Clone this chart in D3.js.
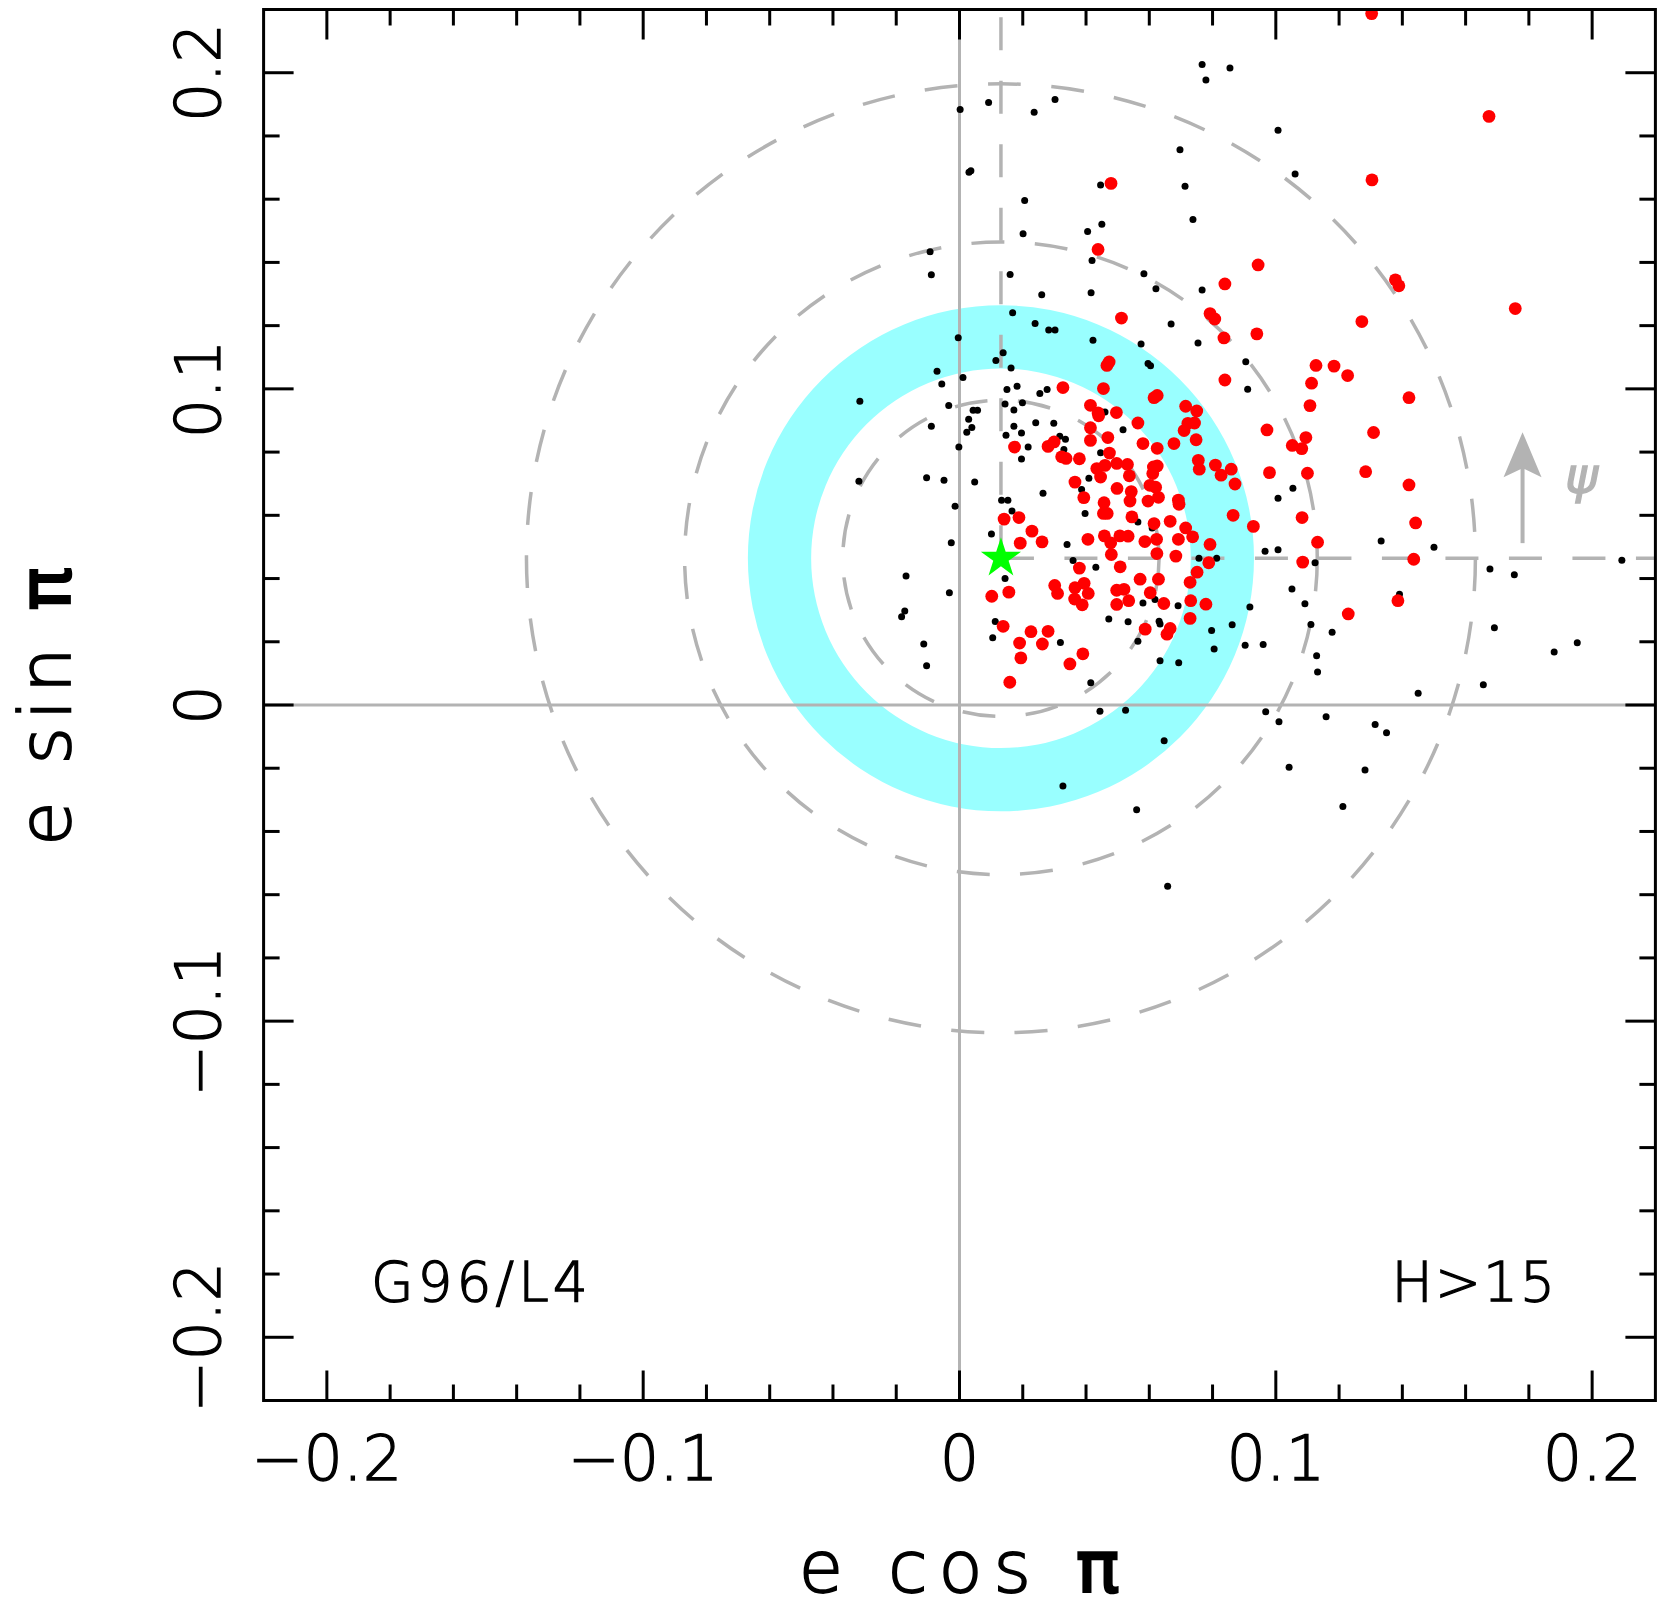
<!DOCTYPE html>
<html>
<head>
<meta charset="utf-8">
<script src="https://cdn.jsdelivr.net/npm/d3@7/dist/d3.min.js"></script>
<style>
  body { margin: 0; background: #fff; }
  text { font-family: "DejaVu Sans", sans-serif; font-weight: 200; fill: #000; stroke: #000; stroke-width: 1.3px; }
</style>
</head>
<body>
<div class="chart"></div>
<script>
// axis ticks
const majorTicks = [-0.2, -0.1, 0, 0.1, 0.2]
const tickLabels = ["−0.2", "−0.1", "0", "0.1", "0.2"]
const minorTicks = [-0.18, -0.16, -0.14, -0.12, -0.08, -0.06, -0.04, -0.02, 0.02, 0.04, 0.06, 0.08, 0.12, 0.14, 0.16, 0.18]

// forced centre, dashed circles and the cyan band
const centre = [0.0131, 0.0464]
const dashRadii = [0.05, 0.10, 0.15]
const bandRadii = [0.06, 0.08]
// arrow (x, y start, y end) and label spot
const arrow = [0.178, 0.0512, 0.0863]
const psiAt = [0.1966, 0.067]

// small black points: [e cos pi, e sin pi]
const blackDots = [
  [0.0767,0.2026],[0.0855,0.2015],[0.0779,0.1977],[0.0002,0.1884],[0.0092,0.1906],[0.0236,0.1875],[0.0302,0.1915],[0.1007,0.1818],[0.0697,0.1756],[0.1061,0.1680],
  [0.0036,0.1690],[0.0030,0.1685],[0.0446,0.1645],[0.0713,0.1641],[0.0206,0.1596],[0.0738,0.1536],[0.0405,0.1498],[0.0450,0.1521],[0.0201,0.1491],[-0.0093,0.1434],
  [-0.0089,0.1361],[0.0419,0.1406],[0.0160,0.1362],[0.0583,0.1364],[0.0621,0.1317],[0.0767,0.1313],[0.0416,0.1304],[0.0260,0.1298],[0.0669,0.1205],[0.0168,0.1241],
  [0.0239,0.1207],[0.0282,0.1186],[0.0302,0.1186],[0.0422,0.1154],[0.0574,0.1142],[0.0754,0.1145],[0.0905,0.1086],[0.0596,0.1080],[0.0604,0.1073],[0.0911,0.0999],
  [-0.0004,0.1162],[0.0138,0.1114],[0.0115,0.1090],[-0.0071,0.1056],[-0.0056,0.1015],[0.0011,0.1036],[0.0163,0.1066],[-0.0315,0.0961],[-0.0034,0.0947],[-0.0089,0.0882],
  [0.0023,0.0863],[0.0039,0.0878],[0.0029,0.0904],[0.0043,0.0932],[0.0057,0.0932],[0.0144,0.0952],[0.0172,0.0933],[0.0199,0.0956],[0.0150,0.0998],[0.0182,0.1008],
  [0.0254,0.0985],[0.0277,0.0998],[0.0172,0.0882],[0.0196,0.0860],[0.0147,0.0853],[0.0241,0.0893],[0.0298,0.0891],[0.0317,0.0850],[0.0335,0.0841],[0.0330,0.0808],
  [0.0460,0.0927],[0.0517,0.0871],[-0.0002,0.0816],[0.0217,0.0816],[-0.0318,0.0708],[-0.0104,0.0719],[-0.0049,0.0711],[0.0048,0.0705],[0.0196,0.0778],[0.0446,0.0798],
  [0.0409,0.0717],[0.0386,0.0682],[0.0264,0.0670],[0.0397,0.0606],[0.0133,0.0648],[0.0153,0.0648],[0.0166,0.0614],[-0.0014,0.0629],[0.0101,0.0541],[-0.0026,0.0513],
  [0.0340,0.0508],[0.0359,0.0457],[0.0431,0.0436],[0.0564,0.0579],[0.0609,0.0560],[0.0757,0.0464],[0.0813,0.0464],[0.0966,0.0486],[0.1007,0.0491],[0.1333,0.0519],
  [0.1500,0.0499],[0.1054,0.0686],[0.1007,0.0654],[0.1124,0.0450],[0.1051,0.0367],[0.1092,0.0320],[0.1111,0.0255],[0.1178,0.0230],[0.1129,0.0156],[0.1132,0.0104],
  [0.1391,0.0350],[0.1450,0.0037],[0.0918,0.0310],[0.0862,0.0254],[0.0797,0.0236],[0.0805,0.0177],[0.0903,0.0189],[0.0960,0.0191],[0.0691,0.0314],[0.0634,0.0140],
  [0.0693,0.0134],[0.0580,0.0323],[0.0618,0.0334],[0.0631,0.0265],[0.0634,0.0256],[0.0533,0.0263],[0.0472,0.0272],[0.0564,0.0202],[0.0319,0.0198],[0.0415,0.0070],
  [0.0144,0.0400],[0.0113,0.0264],[0.0105,0.0213],[-0.0032,0.0355],[-0.0169,0.0408],[-0.0173,0.0297],[-0.0183,0.0279],[-0.0113,0.0193],[-0.0104,0.0124],[0.0444,-0.0020],
  [0.0525,-0.0017],[0.0647,-0.0113],[0.0327,-0.0256],[0.0968,-0.0021],[0.1010,-0.0053],[0.1159,-0.0037],[0.1314,-0.0062],[0.1350,-0.0088],[0.1042,-0.0197],[0.1282,-0.0206],
  [0.1212,-0.0321],[0.0560,-0.0331],[0.0658,-0.0573],[0.1677,0.0430],[0.1754,0.0412],[0.2094,0.0458],[0.1691,0.0244],[0.1880,0.0168],[0.1953,0.0197],[0.1656,0.0064]
]

// big red points
const redDots = [
  [0.1303,0.2187],[0.1304,0.1661],[0.0479,0.1650],[0.0438,0.1441],[0.0944,0.1392],[0.0839,0.1332],[0.1378,0.1345],[0.1389,0.1326],[0.0792,0.1238],[0.0807,0.1221],
  [0.0512,0.1224],[0.1272,0.1213],[0.0836,0.1161],[0.0940,0.1174],[0.0473,0.1085],[0.0466,0.1074],[0.1127,0.1074],[0.1184,0.1072],[0.1227,0.1042],[0.0839,0.1028],
  [0.1113,0.1018],[0.0455,0.1001],[0.0615,0.0972],[0.0625,0.0979],[0.1421,0.0972],[0.0715,0.0945],[0.0750,0.0930],[0.1108,0.0947],[0.0327,0.1004],[0.0414,0.0948],
  [0.0438,0.0924],[0.0440,0.0915],[0.0496,0.0925],[0.0564,0.0892],[0.0972,0.0870],[0.1095,0.0846],[0.1309,0.0862],[0.0722,0.0891],[0.0743,0.0892],[0.0710,0.0868],
  [0.1052,0.0821],[0.1082,0.0811],[0.0414,0.0877],[0.0414,0.0837],[0.0469,0.0846],[0.0580,0.0827],[0.0625,0.0812],[0.0678,0.0827],[0.0748,0.0839],[0.0174,0.0816],
  [0.0280,0.0818],[0.0299,0.0832],[0.0323,0.0785],[0.0337,0.0780],[0.0379,0.0779],[0.0474,0.0797],[0.0755,0.0774],[0.0758,0.0746],[0.0809,0.0759],[0.0827,0.0727],
  [0.0859,0.0746],[0.0871,0.0699],[0.0434,0.0748],[0.0446,0.0721],[0.0460,0.0758],[0.0497,0.0764],[0.0531,0.0761],[0.0537,0.0725],[0.0613,0.0753],[0.0625,0.0756],
  [0.0611,0.0732],[0.0365,0.0705],[0.0498,0.0685],[0.0543,0.0675],[0.0539,0.0645],[0.0602,0.0695],[0.0620,0.0689],[0.0596,0.0645],[0.0629,0.0657],[0.0393,0.0656],
  [0.0457,0.0640],[0.0692,0.0648],[0.0694,0.0635],[0.0865,0.0600],[0.0929,0.0565],[0.0455,0.0606],[0.0467,0.0606],[0.0545,0.0595],[0.0615,0.0574],[0.0666,0.0581],
  [0.0715,0.0560],[0.0141,0.0588],[0.0188,0.0593],[0.0229,0.0550],[0.0261,0.0516],[0.0192,0.0512],[0.0406,0.0524],[0.0458,0.0535],[0.0478,0.0513],[0.0507,0.0535],
  [0.0533,0.0534],[0.0586,0.0517],[0.0623,0.0524],[0.0692,0.0524],[0.0737,0.0532],[0.0792,0.0508],[0.0480,0.0476],[0.0624,0.0479],[0.0684,0.0471],[0.0788,0.0450],
  [0.0751,0.0420],[0.0729,0.0388],[0.0379,0.0433],[0.0508,0.0437],[0.0571,0.0398],[0.0629,0.0398],[0.0603,0.0355],[0.0301,0.0378],[0.0310,0.0353],[0.0365,0.0371],
  [0.0394,0.0385],[0.0407,0.0353],[0.0364,0.0335],[0.0388,0.0317],[0.0497,0.0363],[0.0520,0.0366],[0.0497,0.0318],[0.0535,0.0330],[0.0646,0.0321],[0.0731,0.0330],
  [0.0779,0.0319],[0.0729,0.0274],[0.0156,0.0357],[0.0102,0.0344],[0.0138,0.0249],[0.0226,0.0232],[0.0280,0.0233],[0.0190,0.0196],[0.0262,0.0193],[0.0194,0.0149],
  [0.0390,0.0162],[0.0349,0.0130],[0.0587,0.0240],[0.0666,0.0242],[0.0656,0.0224],[0.0159,0.0072],[0.1674,0.1862],[0.1757,0.1254],[0.1100,0.0733],[0.0980,0.0735],
  [0.1284,0.0738],[0.1421,0.0696],[0.1083,0.0593],[0.1442,0.0576],[0.1132,0.0515],[0.1085,0.0452],[0.1436,0.0461],[0.1386,0.0330],[0.1229,0.0288]
]

const width = 1661, height = 1608
const grey = "#b3b3b3"
const dash = "33,30.5"

const x = d3.scaleLinear().domain([-0.22, 0.22]).range([263.6, 1655.4])
const y = d3.scaleLinear().domain([-0.22, 0.22]).range([1400.5, 9.5])
const pLeft = x(-0.22), pRight = x(0.22), pTop = y(0.22), pBottom = y(-0.22)
// radius in pixels from a value
const rad = v => x(v) - x(0)

const svg = d3.select(".chart").append("svg")
    .attr("width", width)
    .attr("height", height)
    .style("background", "#fff")

svg.append("clipPath").attr("id", "plot")
  .append("rect")
    .attr("x", pLeft).attr("y", pTop)
    .attr("width", pRight - pLeft).attr("height", pBottom - pTop)

const g = svg.append("g").attr("clip-path", "url(#plot)")
const cx = x(centre[0]), cy = y(centre[1])

// cyan band
g.append("path")
    .attr("transform", "translate(" + cx + "," + cy + ")")
    .attr("d", d3.arc()({innerRadius: rad(bandRadii[0]), outerRadius: rad(bandRadii[1]), startAngle: 0, endAngle: 2 * Math.PI}))
    .attr("fill", "#99ffff")

// zero lines
g.append("line")
    .attr("x1", x(0)).attr("x2", x(0)).attr("y1", pTop).attr("y2", pBottom)
    .attr("stroke", grey).attr("stroke-width", 3)
g.append("line")
    .attr("x1", pLeft).attr("x2", pRight).attr("y1", y(0)).attr("y2", y(0))
    .attr("stroke", grey).attr("stroke-width", 3)

// dashed circles round the forced centre
g.selectAll(".ring")
    .data(dashRadii)
    .enter().append("circle")
    .attr("class", "ring")
    .attr("cx", cx).attr("cy", cy)
    .attr("r", d => rad(d))
    .attr("fill", "none")
    .attr("stroke", grey).attr("stroke-width", 3.5)
    .attr("stroke-dasharray", dash)

// dashed cross from the centre
g.append("line")
    .attr("x1", cx).attr("x2", cx).attr("y1", cy).attr("y2", pTop)
    .attr("stroke", grey).attr("stroke-width", 3.5).attr("stroke-dasharray", dash)
g.append("line")
    .attr("x1", cx).attr("x2", pRight).attr("y1", cy).attr("y2", cy)
    .attr("stroke", grey).attr("stroke-width", 3.5).attr("stroke-dasharray", dash)

// arrow and psi
const ax = x(arrow[0]), ayTip = y(arrow[2])
g.append("line")
    .attr("x1", ax).attr("x2", ax).attr("y1", y(arrow[1])).attr("y2", ayTip + 30)
    .attr("stroke", grey).attr("stroke-width", 4)
g.append("path")
    .attr("d", "M" + ax + "," + ayTip + "L" + (ax - 19) + "," + (ayTip + 45) + "L" + ax + "," + (ayTip + 36) + "L" + (ax + 19) + "," + (ayTip + 45) + "Z")
    .attr("fill", grey)
svg.append("text")
    .attr("x", x(psiAt[0])).attr("y", y(psiAt[1]))
    .attr("text-anchor", "middle")
    .style("font-size", "50px").style("font-style", "italic")
    .style("fill", grey).style("stroke", grey)
    .text("ψ")

// points
g.selectAll(".small")
    .data(blackDots)
    .enter().append("circle")
    .attr("class", "small")
    .attr("cx", d => x(d[0])).attr("cy", d => y(d[1]))
    .attr("r", 3.5)
    .attr("fill", "#000")

g.selectAll(".big")
    .data(redDots)
    .enter().append("circle")
    .attr("class", "big")
    .attr("cx", d => x(d[0])).attr("cy", d => y(d[1]))
    .attr("r", 6.4)
    .attr("fill", "#ff0000")

// green star at the centre
g.append("path")
    .attr("transform", "translate(" + cx + "," + cy + ")")
    .attr("d", d3.symbol(d3.symbolStar, 500)())
    .attr("fill", "#00ff00")

// frame and ticks
svg.append("rect")
    .attr("x", pLeft).attr("y", pTop)
    .attr("width", pRight - pLeft).attr("height", pBottom - pTop)
    .attr("fill", "none").attr("stroke", "#000").attr("stroke-width", 3)

const ticks = majorTicks.map(v => ({v: v, len: 30})).concat(minorTicks.map(v => ({v: v, len: 16})))
const tk = svg.append("g").attr("stroke", "#000").attr("stroke-width", 3)
ticks.forEach(t => {
    tk.append("line").attr("x1", x(t.v)).attr("x2", x(t.v)).attr("y1", pBottom).attr("y2", pBottom - t.len)
    tk.append("line").attr("x1", x(t.v)).attr("x2", x(t.v)).attr("y1", pTop).attr("y2", pTop + t.len)
    tk.append("line").attr("y1", y(t.v)).attr("y2", y(t.v)).attr("x1", pLeft).attr("x2", pLeft + t.len)
    tk.append("line").attr("y1", y(t.v)).attr("y2", y(t.v)).attr("x1", pRight).attr("x2", pRight - t.len)
})

// tick labels
svg.selectAll(".xlab")
    .data(majorTicks)
    .enter().append("text")
    .attr("class", "xlab")
    .attr("x", d => x(d)).attr("y", 1480)
    .attr("text-anchor", "middle")
    .style("font-size", "62px")
    .text((d, i) => tickLabels[i])

svg.selectAll(".ylab")
    .data(majorTicks)
    .enter().append("text")
    .attr("class", "ylab")
    .attr("transform", d => "translate(220," + y(d) + ") rotate(-90)")
    .attr("text-anchor", "middle")
    .style("font-size", "62px")
    .text((d, i) => tickLabels[i])

// axis titles
const xt = svg.append("text")
    .attr("x", x(0) + 5).attr("y", 1592)
    .attr("text-anchor", "middle")
    .style("font-size", "72px").style("letter-spacing", "11px").style("stroke-width", "1.8px")
xt.append("tspan").text("e cos ")
xt.append("tspan").style("font-weight", "400").style("stroke-width", "2.5px").text("π")

const yt = svg.append("text")
    .attr("transform", "translate(70," + (y(0) - 2) + ") rotate(-90)")
    .attr("text-anchor", "middle")
    .style("font-size", "72px").style("letter-spacing", "7px").style("stroke-width", "1.8px")
yt.append("tspan").text("e sin ")
yt.append("tspan").style("font-weight", "400").style("stroke-width", "2.5px").text("π")

// panel notes
svg.append("text")
    .attr("x", 371).attr("y", 1301)
    .style("font-size", "55px").style("letter-spacing", "4px")
    .text("G96/L4")
svg.append("text")
    .attr("x", 1557).attr("y", 1301)
    .attr("text-anchor", "end")
    .style("font-size", "55px").style("letter-spacing", "2px")
    .text("H>15")
</script>
</body>
</html>
